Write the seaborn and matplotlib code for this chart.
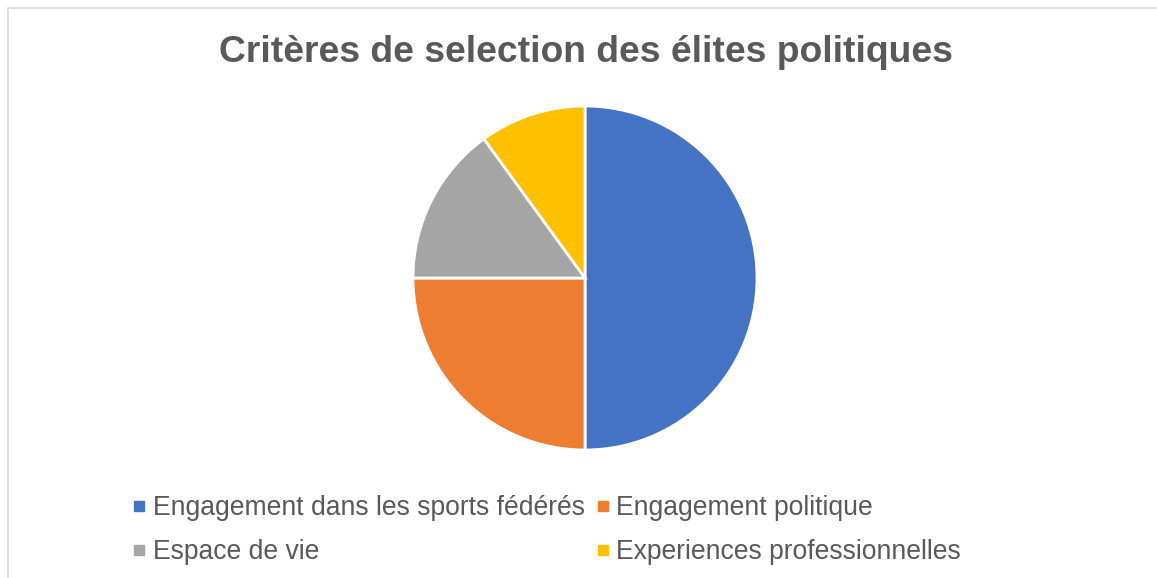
import matplotlib.pyplot as plt
import seaborn as sns
from matplotlib.lines import Line2D

# Données
categories = ["Engagement dans les sports fédérés", "Engagement politique",
              "Espace de vie", "Experiences professionnelles"]
valeurs = [50, 25, 15, 10]
couleurs = ["#4472C4", "#ED7D31", "#A5A5A5", "#FFC000"]

sns.set_theme(style="white")
plt.rcParams['font.family'] = ['Liberation Sans', 'DejaVu Sans']

W, H = 1157, 578
fig = plt.figure(figsize=(W / 100, H / 100), dpi=100)

# cadre gris clair
fig.add_artist(plt.Rectangle((7.5 / W, -0.01), 1.0, 1 - 8.5 / H + 0.01,
                             transform=fig.transFigure, fill=False,
                             edgecolor="#D9D9D9", linewidth=1.2))

cx, cy, r = 585, 278, 172
ax = fig.add_axes([(cx - r) / W, (H - cy - r) / H, 2 * r / W, 2 * r / H])
ax.pie(valeurs, colors=couleurs, startangle=90, counterclock=False,
       wedgeprops=dict(edgecolor="white", linewidth=2))
ax.set_xlim(-1, 1)
ax.set_ylim(-1, 1)
ax.set_aspect("equal")

fig.text(586 / W, 1 - 53 / H, "Critères de selection des élites politiques",
         ha="center", va="center", fontsize=26.8, fontweight="bold", color="#595959")

handles = [Line2D([], [], linestyle="", marker="s", markersize=6.5,
                  markerfacecolor=c, markeredgecolor=c) for c in couleurs]
ordre = [0, 2, 1, 3]
fig.legend([handles[i] for i in ordre], [categories[i] for i in ordre],
           ncol=2, loc="center", bbox_to_anchor=(547 / W, 1 - 530 / H),
           frameon=False, fontsize=19.1, labelcolor="#595959",
           handlelength=0.45, handletextpad=0.3, columnspacing=0.45,
           labelspacing=0.68, borderpad=0)

fig.savefig("out.png", dpi=100)
